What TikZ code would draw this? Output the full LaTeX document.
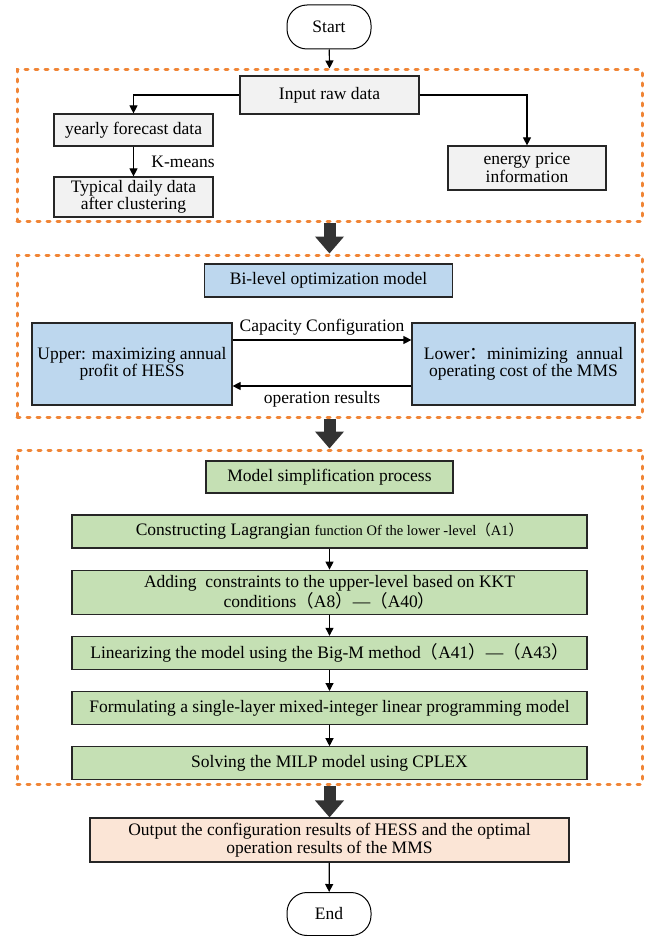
\documentclass[tikz,border=0pt]{standalone}
\usepackage{fontspec}
\setmainfont{Liberation Serif}
\newfontfamily\cjk{Noto Sans CJK SC}
\usetikzlibrary{arrows.meta,positioning}
\definecolor{dashorange}{HTML}{F08536}
\definecolor{boxgray}{HTML}{F2F2F2}
\definecolor{boxblue}{HTML}{BDD7EE}
\definecolor{boxgreen}{HTML}{C5E0B4}
\definecolor{boxpeach}{HTML}{FBE5D6}
\definecolor{bigarrowgray}{HTML}{333333}

\begin{document}
\begin{tikzpicture}[
    x=1pt, y=-1pt,
    node distance=21pt,
    every node/.style={font=\fontsize{17.5}{17.5}\selectfont},
    box/.style={draw=black!85, line width=1.2pt, align=center, inner sep=3pt},
    graybox/.style={box, fill=boxgray},
    bluebox/.style={box, fill=boxblue},
    greenbox/.style={box, fill=boxgreen},
    stepgreen/.style={greenbox, minimum width=515pt, minimum height=33pt},
    peachbox/.style={box, fill=boxpeach},
    terminal/.style={draw, line width=1pt, rounded corners=20pt,
                     minimum width=84pt, minimum height=44pt},
    group/.style={draw=dashorange, line width=3pt, dash pattern=on 3pt off 7pt,
                  line cap=round, minimum width=625pt},
    arrow/.style={-{Triangle[length=8pt, width=8pt]}, line width=1.2pt},
    bigarrow/.style={-{Triangle[length=17pt, width=28pt]}, line width=12pt,
                     draw=bigarrowgray}
  ]
    \fill[white] (0,0) rectangle (652,936);
    \useasboundingbox (0,0) rectangle (652,936);

    \node[terminal] (start) at (329,27) {Start};

    \node[group, minimum height=151pt] (g1) at (329.5,145.5) {};
    \node[graybox, minimum width=179pt, minimum height=38pt] (inp) at (329.5,95) {Input raw data};
    \node[graybox, minimum width=159pt, minimum height=32pt] (yf) at (133.5,130) {yearly forecast data};
    \node[graybox, minimum width=159pt, minimum height=40pt] (td) at (133.5,197)
      {Typical daily data\\after clustering};
    \node[graybox, minimum width=158pt, minimum height=44pt] (ep) at (527,168)
      {energy price\\information};

    \node[group, minimum height=162pt] (g2) at (329.5,336) {};
    \node[bluebox, minimum width=248pt, minimum height=33pt] (bl) at (328.5,280.5) {Bi-level optimization model};
    \node[bluebox, minimum width=200pt, minimum height=82pt] (up) at (132,364)
      {Upper: maximizing annual\\profit of HESS};
    \node[bluebox, minimum width=223pt, minimum height=82pt] (low) at (523.5,364)
      {Lower{\cjk ：}minimizing\ \ annual\\operating cost of the MMS};

    \node[group, minimum height=334pt] (g3) at (329.5,617) {};
    \node[greenbox, minimum width=247pt, minimum height=32pt] (ms) at (329.5,477) {Model simplification process};
    \node[stepgreen] (a1) at (329.5,531.5)
      {Constructing Lagrangian {\fontsize{14.5}{15}\selectfont function Of the lower -level{\cjk （}A1{\cjk ）}}};
    \node[stepgreen, minimum height=44pt, below=of a1] (kkt)
      {Adding\ \ constraints to the upper-level based on KKT\\conditions{\cjk （}A8{\cjk ）}—{\cjk （}A40{\cjk ）}};
    \node[stepgreen, below=of kkt] (lin)
      {Linearizing the model using the Big-M method{\cjk （}A41{\cjk ）}—{\cjk （}A43{\cjk ）}};
    \node[stepgreen, below=of lin] (form)
      {Formulating a single-layer mixed-integer linear programming model};
    \node[stepgreen, below=of form] (solv) {Solving the MILP model using CPLEX};

    \node[peachbox, minimum width=479pt, minimum height=44pt] (out) at (329.5,840)
      {Output the configuration results of HESS and the optimal\\operation results of the MMS};
    \node[terminal, minimum height=43pt] (en) at (329,914) {End};

    \draw[arrow] (start) -- (g1.north);
    \draw[arrow] (inp.west) -| (yf.north);
    \draw[arrow] (inp.east) -| (ep.north);
    \draw[arrow] (yf) -- node[right=14pt] {K-means} (td);

    \draw[arrow] ([yshift=24pt]up.east) -- node[above=1pt] {Capacity Configuration} ([yshift=24pt]low.west);
    \draw[arrow] ([yshift=-22pt]low.west) -- node[below=1pt] {operation results} ([yshift=-22pt]up.east);

    \draw[arrow] (a1) -- (kkt);
    \draw[arrow] (kkt) -- (lin);
    \draw[arrow] (lin) -- (form);
    \draw[arrow] (form) -- (solv);
    \draw[arrow] (out) -- (en);

    \draw[bigarrow] (g1.south) -- (g2.north);
    \draw[bigarrow] (g2.south) -- (g3.north);
    \draw[bigarrow] (g3.south) -- (out.north);
  \end{tikzpicture}
\end{document}
